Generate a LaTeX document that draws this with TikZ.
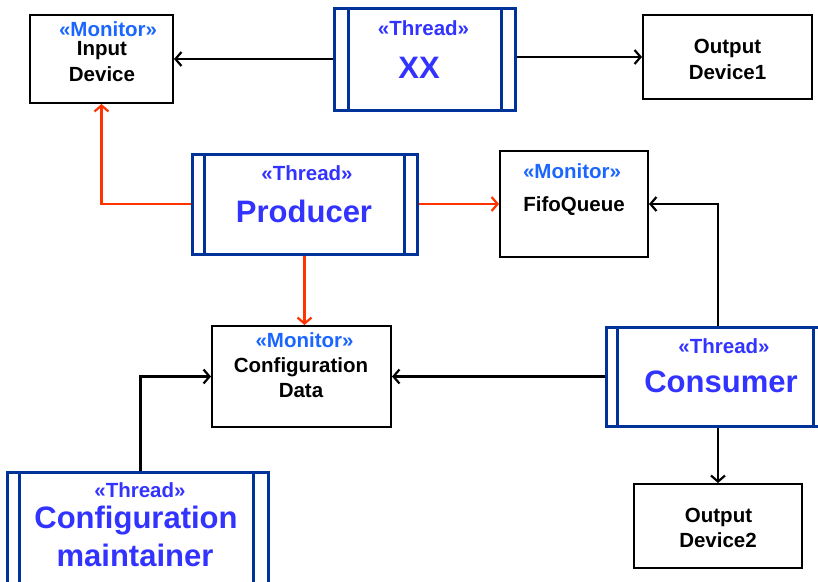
\documentclass[tikz,border=0pt]{standalone}
\usepackage{fontspec}
\setmainfont{Liberation Sans}
\usetikzlibrary{arrows.meta,calc}
\definecolor{navy}{RGB}{0,51,153}
\definecolor{thrtxt}{RGB}{51,51,255}
\definecolor{montxt}{RGB}{26,102,255}
\definecolor{redln}{RGB}{255,51,0}
\tikzset{
  monbox/.style={draw=black,line width=2pt,inner sep=0pt,fill=white},
  thrbox/.style={draw=navy,line width=3pt,inner sep=0pt,fill=white},
  innerln/.style={draw=navy,line width=3pt},
  txt/.style={anchor=base,inner sep=0pt,font=\bfseries\fontsize{20.5}{20.5}\selectfont},
  mon/.style={txt,text=montxt},
  thr/.style={txt,text=thrtxt},
  nm/.style={txt,text=black},
  big/.style={anchor=base,inner sep=0pt,text=thrtxt,font=\bfseries\fontsize{31}{31}\selectfont},
  conn/.style={draw=black,line width=2.2pt,-{Straight Barb[length=6pt,width=14pt]}},
  rconn/.style={draw=redln,line width=2.2pt,-{Straight Barb[length=6pt,width=14pt]}},
}
\begin{document}
\begin{tikzpicture}[x=1pt,y=-1pt]
\useasboundingbox (0,0) rectangle (818,581);
\clip (0,0) rectangle (818,581);
\fill[white] (0,0) rectangle (818,581);

% boxes
\node[monbox,minimum width=143pt,minimum height=88pt] (in) at (101.5,59) {};
\node[thrbox,minimum width=181pt,minimum height=102pt] (xx) at (424.5,59) {};
\node[monbox,minimum width=169pt,minimum height=84pt] (od1) at (727.5,57) {};
\node[thrbox,minimum width=225pt,minimum height=100pt] (prod) at (304.5,204) {};
\node[monbox,minimum width=148pt,minimum height=106pt] (fifo) at (574,204) {};
\node[monbox,minimum width=179pt,minimum height=101pt] (cfg) at (301.5,376.5) {};
\node[thrbox,minimum width=213pt,minimum height=99pt] (cons) at (712.5,376.5) {};
\node[monbox,minimum width=168pt,minimum height=84pt] (od2) at (718,526) {};
\node[thrbox,minimum width=261pt,minimum height=128pt] (mnt) at (137.5,536) {};
\coordinate (mtop) at ($(mnt.north)+(3,0)$);

% thread inner bars
\foreach \n/\l/\r in {xx/16/15, prod/14/14, cons/13/7, mnt/14/16}{
  \draw[innerln] ($(\n.north west)+(\l,0)$) -- ($(\n.south west)+(\l,0)$);
  \draw[innerln] ($(\n.north east)+(-\r,0)$) -- ($(\n.south east)+(-\r,0)$);
}

% texts
\node[mon] (t1) at (108,36) {«Monitor»};
\node[nm] (t2) at (102,55) {Input};
\node[nm] (t3) at (102,81) {Device};

\node[thr] (t4) at (423.5,35) {«Thread»};
\node[big] (t5) at (419,78) {XX};

\node[nm] (t6) at (727.5,53) {Output};
\node[nm] (t7) at (727.5,79) {Device1};

\node[thr] (t8) at (307,180) {«Thread»};
\node[big] (t9) at (304,222) {Producer};

\node[mon] (t10) at (572,178) {«Monitor»};
\node[nm] (t11) at (574,211) {FifoQueue};

\node[mon] (t12) at (304.5,347) {«Monitor»};
\node[nm] (t13) at (301,372) {Configuration};
\node[nm] (t14) at (301,397) {Data};

\node[thr] (t15) at (724,353) {«Thread»};
\node[big] (t16) at (721,392) {Consumer};

\node[nm] (t17) at (718.5,522) {Output};
\node[nm] (t18) at (718,547) {Device2};

\node[thr] (t19) at (140,497) {«Thread»};
\node[big] (t20) at (136,528) {Configuration};
\node[big] (t21) at (135,566) {maintainer};

% connectors
\draw[conn] (xx.west) -- (in.east |- xx.west);
\draw[conn] (xx.east |- od1.west) -- (od1.west);
\draw[rconn] (prod.east) -- (fifo.west |- prod.east);
\draw[rconn] (prod.west) -| (in.south);
\draw[rconn] (prod.south) -- (prod.south |- cfg.north);
\draw[conn] (cons.west) -- (cfg.east |- cons.west);
\draw[conn] (mtop) |- (cfg.west);
\draw[conn] (cons.north -| od2.north) |- (fifo.east);
\draw[conn] (cons.south -| od2.north) -- (od2.north);
\end{tikzpicture}
\end{document}
